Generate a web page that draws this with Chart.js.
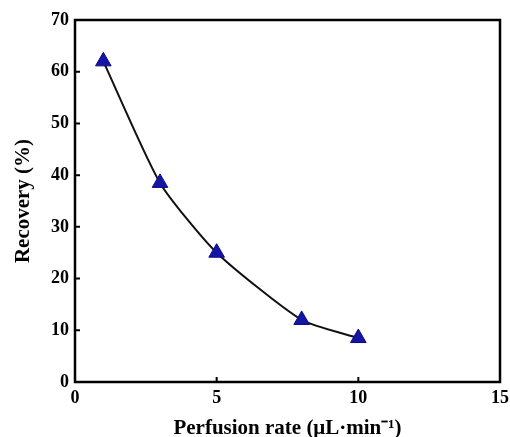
<!DOCTYPE html>
<html>
<head>
<meta charset="utf-8">
<script src="https://cdn.jsdelivr.net/npm/chart.js@4/dist/chart.umd.min.js"></script>
<style>
  html, body { margin: 0; padding: 0; background: #fff; }
  #wrap { width: 510px; height: 437px; }
</style>
</head>
<body>
<div id="wrap"><canvas id="myChart" width="510" height="437"></canvas></div>
<script>
// data
const rates = [1, 3, 5, 8, 10];
const recovery = [62, 38.5, 25, 12, 8.5];
const xTicks = [0, 5, 10, 15];
const yTicks = [0, 10, 20, 30, 40, 50, 60, 70];

const font = "'Liberation Serif', 'Times New Roman', serif";

// box round the plot + small inward ticks
const frame = {
    id: "frame",
    afterDraw(chart) {
        const c = chart.ctx;
        const a = chart.chartArea;
        const xs = chart.scales.x;
        const ys = chart.scales.y;
        c.save();
        c.strokeStyle = "#000";
        c.lineWidth = 2.5;
        c.strokeRect(a.left, a.top, a.right - a.left, a.bottom - a.top);
        c.lineWidth = 2;
        c.beginPath();
        yTicks.slice(1, -1).forEach(v => {
            const y = ys.getPixelForValue(v);
            c.moveTo(a.left, y);
            c.lineTo(a.left + 5, y);
        });
        xTicks.slice(1, -1).forEach(v => {
            const x = xs.getPixelForValue(v);
            c.moveTo(x, a.bottom);
            c.lineTo(x, a.bottom - 5);
        });
        c.stroke();
        c.restore();
    }
};

new Chart(document.getElementById("myChart"), {
    type: "scatter",
    data: {
        datasets: [{
            data: rates.map((r, i) => ({ x: r, y: recovery[i] })),
            showLine: true,
            tension: 0.2,
            borderColor: "#111",
            borderWidth: 2,
            pointStyle: "triangle",
            pointRadius: 9,
            pointBackgroundColor: "#1515a5",
            pointBorderColor: "#0a0a80",
            pointBorderWidth: 1
        }]
    },
    options: {
        responsive: false,
        animation: false,
        layout: { padding: { top: 20, right: 10, left: 11, bottom: 0 } },
        plugins: { legend: { display: false }, tooltip: { enabled: false } },
        scales: {
            x: {
                type: "linear",
                min: 0,
                max: 15,
                afterBuildTicks: s => { s.ticks = xTicks.map(v => ({ value: v })); },
                afterFit: s => { s.height = 55; s.paddingLeft = 0; s.paddingRight = 0; },
                grid: { display: false, drawTicks: false },
                border: { display: false },
                ticks: { color: "#000", padding: 6, font: { family: font, size: 18, weight: "bold" } },
                title: {
                    display: true,
                    text: "Perfusion rate (\u03bcL\u00b7min\u207b\u00b9)",
                    color: "#000",
                    padding: { top: 2, bottom: -4 },
                    font: { family: font, size: 21, weight: "bold" }
                }
            },
            y: {
                min: 0,
                max: 70,
                afterBuildTicks: s => { s.ticks = yTicks.map(v => ({ value: v })); },
                afterFit: s => { s.width = 64; s.paddingTop = 0; s.paddingBottom = 0; },
                grid: { display: false, drawTicks: false },
                border: { display: false },
                ticks: { color: "#000", padding: 6, font: { family: font, size: 18, weight: "bold" } },
                title: {
                    display: true,
                    text: "Recovery (%)",
                    color: "#000",
                    padding: { top: 0, bottom: 2 },
                    font: { family: font, size: 21, weight: "bold" }
                }
            }
        }
    },
    plugins: [frame]
});
</script>
</body>
</html>
